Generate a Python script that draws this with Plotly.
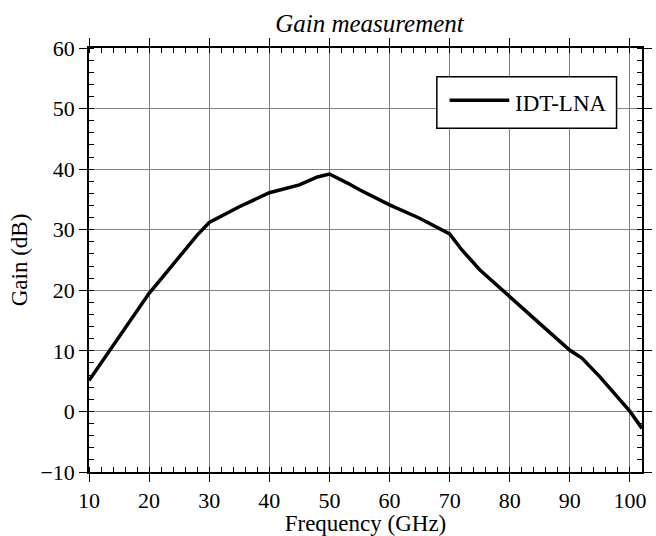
import plotly.graph_objects as go

freq = [10, 15, 20, 22, 25, 28, 30, 35, 40, 45, 48, 50, 53, 55, 60, 65, 70, 72, 75, 80, 85, 90, 92, 95, 98, 100, 102]
gain = [5.1, 12.3, 19.5, 21.9, 25.4, 29.1, 31.2, 33.8, 36.1, 37.4, 38.7, 39.2, 37.7, 36.6, 34.1, 31.9, 29.3, 26.7, 23.4, 18.9, 14.5, 10.1, 8.8, 5.7, 2.4, 0.0, -2.8]

series_name = "IDT-LNA"
x_ticks = [10, 20, 30, 40, 50, 60, 70, 80, 90, 100]
y_ticks = [-10, 0, 10, 20, 30, 40, 50, 60]

FONT = "Times New Roman, Liberation Serif, serif"

fig = go.Figure()
fig.add_trace(go.Scatter(x=freq, y=gain, mode="lines", name=series_name,
                         line=dict(color="black", width=3.5), showlegend=False))

axis_common = dict(
    showline=True, linecolor="black", linewidth=1.5, mirror="allticks",
    showgrid=True, gridcolor="#808080", gridwidth=1,
    ticks="outside", ticklen=8, tickcolor="black", tickwidth=1.2,
    tickfont=dict(family=FONT, size=22, color="black"),
    zeroline=False,
    minor=dict(ticks="inside", ticklen=5, dtick=2, tickcolor="black", tickwidth=1, showgrid=False),
)

fig.update_xaxes(range=[10, 102], tickvals=x_ticks,
                 title=dict(text="Frequency (GHz)", font=dict(family=FONT, size=23, color="black"), standoff=0),
                 **axis_common)
fig.update_yaxes(range=[-10, 60], tickvals=y_ticks,
                 title=dict(text="Gain (dB)", font=dict(family=FONT, size=23, color="black"), standoff=6),
                 **axis_common)

# legend drawn as a framed box (matches the long legend line of the original)
fig.add_shape(type="rect", xref="paper", yref="paper", x0=0.629, x1=0.954, y0=0.811, y1=0.932,
              line=dict(color="black", width=1.5), fillcolor="white", layer="above")
fig.add_shape(type="line", xref="paper", yref="paper", x0=0.652, x1=0.760, y0=0.877, y1=0.877,
              line=dict(color="black", width=3.5), layer="above")
fig.add_annotation(xref="paper", yref="paper", x=0.767, y=0.868, xanchor="left", yanchor="middle",
                   text=series_name, showarrow=False,
                   font=dict(family=FONT, size=23, color="black"))

fig.update_layout(
    width=656, height=536,
    margin=dict(l=89, r=4, t=48, b=64),
    paper_bgcolor="white", plot_bgcolor="white",
    title=dict(text="<i>Gain measurement</i>", x=369.5 / 656, xanchor="center",
               y=1 - 23 / 536, yanchor="middle",
               font=dict(family=FONT, size=25, color="black")),
    showlegend=False,
    font=dict(family=FONT, color="black"),
)

fig.write_html("out.html")
